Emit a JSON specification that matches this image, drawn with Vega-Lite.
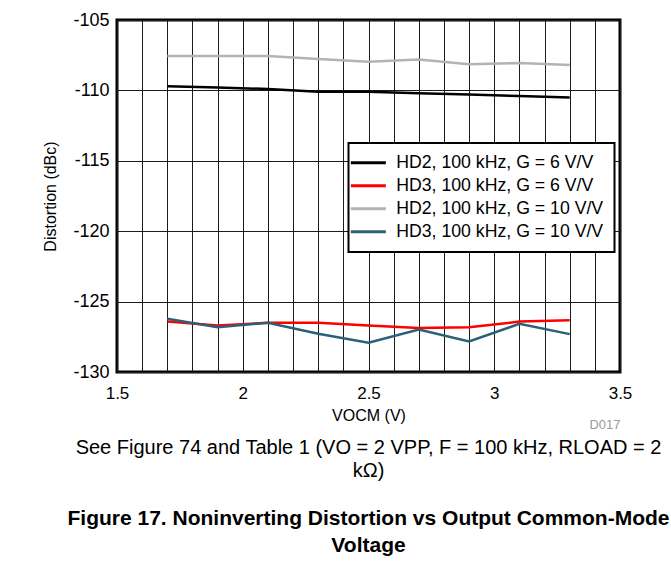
{
  "$schema": "https://vega.github.io/schema/vega-lite/v6.json",
  "width": 503,
  "height": 352,
  "autosize": {"type": "none"},
  "padding": {"left": 117, "top": 20, "right": 51, "bottom": 189},
  "background": "white",
  "config": {
    "font": "Liberation Sans",
    "view": {"stroke": "black", "strokeWidth": 3},
    "axis": {"labelFont": "Liberation Sans", "titleFont": "Liberation Sans", "labelColor": "black", "titleColor": "black"},
    "legend": {"strokeColor": "black", "strokeWidth": 2, "fillColor": "white"}
  },
  "title": {
    "text": ["See Figure 74 and Table 1 (VO = 2 VPP, F = 100 kHz, RLOAD = 2", "kΩ)"],
    "subtitle": ["Figure 17. Noninverting Distortion vs Output Common-Mode", "Voltage"],
    "orient": "bottom",
    "anchor": "middle",
    "frame": "group",
    "font": "Liberation Sans",
    "fontSize": 20,
    "fontWeight": "normal",
    "color": "black",
    "lineHeight": 23,
    "offset": 6,
    "subtitleFont": "Liberation Sans",
    "subtitleFontSize": 21,
    "subtitleFontWeight": "bold",
    "subtitleColor": "black",
    "subtitleLineHeight": 27,
    "subtitlePadding": 27
  },
  "datasets": {
    "curves": [
      {"vocm": 1.7, "dist": -109.7, "series": "HD2, 100 kHz, G = 6 V/V"},
      {"vocm": 1.9, "dist": -109.8, "series": "HD2, 100 kHz, G = 6 V/V"},
      {"vocm": 2.1, "dist": -109.9, "series": "HD2, 100 kHz, G = 6 V/V"},
      {"vocm": 2.3, "dist": -110.1, "series": "HD2, 100 kHz, G = 6 V/V"},
      {"vocm": 2.5, "dist": -110.1, "series": "HD2, 100 kHz, G = 6 V/V"},
      {"vocm": 2.7, "dist": -110.2, "series": "HD2, 100 kHz, G = 6 V/V"},
      {"vocm": 2.9, "dist": -110.3, "series": "HD2, 100 kHz, G = 6 V/V"},
      {"vocm": 3.1, "dist": -110.4, "series": "HD2, 100 kHz, G = 6 V/V"},
      {"vocm": 3.3, "dist": -110.5, "series": "HD2, 100 kHz, G = 6 V/V"},
      {"vocm": 1.7, "dist": -126.42, "series": "HD3, 100 kHz, G = 6 V/V"},
      {"vocm": 1.9, "dist": -126.7, "series": "HD3, 100 kHz, G = 6 V/V"},
      {"vocm": 2.1, "dist": -126.5, "series": "HD3, 100 kHz, G = 6 V/V"},
      {"vocm": 2.3, "dist": -126.5, "series": "HD3, 100 kHz, G = 6 V/V"},
      {"vocm": 2.5, "dist": -126.7, "series": "HD3, 100 kHz, G = 6 V/V"},
      {"vocm": 2.7, "dist": -126.88, "series": "HD3, 100 kHz, G = 6 V/V"},
      {"vocm": 2.9, "dist": -126.83, "series": "HD3, 100 kHz, G = 6 V/V"},
      {"vocm": 3.1, "dist": -126.42, "series": "HD3, 100 kHz, G = 6 V/V"},
      {"vocm": 3.3, "dist": -126.32, "series": "HD3, 100 kHz, G = 6 V/V"},
      {"vocm": 1.7, "dist": -107.56, "series": "HD2, 100 kHz, G = 10 V/V"},
      {"vocm": 1.9, "dist": -107.56, "series": "HD2, 100 kHz, G = 10 V/V"},
      {"vocm": 2.1, "dist": -107.56, "series": "HD2, 100 kHz, G = 10 V/V"},
      {"vocm": 2.3, "dist": -107.77, "series": "HD2, 100 kHz, G = 10 V/V"},
      {"vocm": 2.5, "dist": -107.96, "series": "HD2, 100 kHz, G = 10 V/V"},
      {"vocm": 2.7, "dist": -107.8, "series": "HD2, 100 kHz, G = 10 V/V"},
      {"vocm": 2.9, "dist": -108.15, "series": "HD2, 100 kHz, G = 10 V/V"},
      {"vocm": 3.1, "dist": -108.05, "series": "HD2, 100 kHz, G = 10 V/V"},
      {"vocm": 3.3, "dist": -108.2, "series": "HD2, 100 kHz, G = 10 V/V"},
      {"vocm": 1.7, "dist": -126.22, "series": "HD3, 100 kHz, G = 10 V/V"},
      {"vocm": 1.9, "dist": -126.82, "series": "HD3, 100 kHz, G = 10 V/V"},
      {"vocm": 2.1, "dist": -126.5, "series": "HD3, 100 kHz, G = 10 V/V"},
      {"vocm": 2.3, "dist": -127.29, "series": "HD3, 100 kHz, G = 10 V/V"},
      {"vocm": 2.5, "dist": -127.92, "series": "HD3, 100 kHz, G = 10 V/V"},
      {"vocm": 2.7, "dist": -126.98, "series": "HD3, 100 kHz, G = 10 V/V"},
      {"vocm": 2.9, "dist": -127.83, "series": "HD3, 100 kHz, G = 10 V/V"},
      {"vocm": 3.1, "dist": -126.58, "series": "HD3, 100 kHz, G = 10 V/V"},
      {"vocm": 3.3, "dist": -127.31, "series": "HD3, 100 kHz, G = 10 V/V"}
    ],
    "code": [{"label": "D017"}]
  },
  "layer": [
    {
      "data": {"name": "curves"},
      "mark": {"type": "line", "strokeWidth": 2.5, "clip": true},
      "encoding": {
        "x": {
          "field": "vocm", "type": "quantitative",
          "scale": {"domain": [1.5, 3.5], "nice": false, "zero": false},
          "axis": {
            "values": [1.5, 1.6, 1.7, 1.8, 1.9, 2, 2.1, 2.2, 2.3, 2.4, 2.5, 2.6, 2.7, 2.8, 2.9, 3, 3.1, 3.2, 3.3, 3.4, 3.5],
            "tickCount": 40,
            "labelExpr": "abs(datum.value * 2 - round(datum.value * 2)) < 0.001 ? '' + datum.value : ''",
            "title": "VOCM (V)",
            "titleFontSize": 16,
            "titleFontWeight": "normal",
            "titlePadding": 6,
            "labelFontSize": 17,
            "labelPadding": 13,
            "labelFlush": false,
            "labelOverlap": false,
            "ticks": false,
            "domain": false,
            "grid": true,
            "gridColor": "#1a1a1a",
            "gridWidth": 1,
            "gridOpacity": 1
          }
        },
        "y": {
          "field": "dist", "type": "quantitative",
          "scale": {"domain": [-130, -105], "nice": false, "zero": false},
          "axis": {
            "values": [-130, -125, -120, -115, -110, -105],
            "labelExpr": "'' + datum.value",
            "title": "Distortion (dBc)",
            "titleFontSize": 16,
            "titleFontWeight": "normal",
            "titlePadding": 14,
            "labelFontSize": 18,
            "labelPadding": 8,
            "labelFlush": false,
            "labelOverlap": false,
            "ticks": false,
            "domain": false,
            "grid": true,
            "gridColor": "#1a1a1a",
            "gridWidth": 1,
            "gridOpacity": 1
          }
        },
        "color": {
          "field": "series", "type": "nominal",
          "scale": {
            "domain": ["HD2, 100 kHz, G = 6 V/V", "HD3, 100 kHz, G = 6 V/V", "HD2, 100 kHz, G = 10 V/V", "HD3, 100 kHz, G = 10 V/V"],
            "range": ["#000000", "#ff0000", "#b3b3b3", "#2b6077"]
          },
          "legend": {
            "title": null,
            "orient": "none",
            "legendX": 231.5,
            "legendY": 123,
            "padding": 11,
            "rowPadding": 4,
            "fillColor": "white",
            "strokeColor": "black",
            "symbolType": "M-2.5,0H2.5",
            "symbolSize": 196,
            "symbolStrokeWidth": 3,
            "labelFont": "Liberation Sans",
            "labelFontSize": 17.7,
            "labelColor": "black",
            "labelOffset": 19,
            "labelLimit": 400
          }
        }
      }
    },
    {
      "data": {"name": "code"},
      "mark": {"type": "text", "fontSize": 13, "color": "#9a9a9a", "font": "Liberation Sans", "clip": false},
      "encoding": {
        "x": {"datum": 3.44, "type": "quantitative"},
        "y": {"datum": -133.76, "type": "quantitative"},
        "text": {"field": "label", "type": "nominal"}
      }
    }
  ]
}
